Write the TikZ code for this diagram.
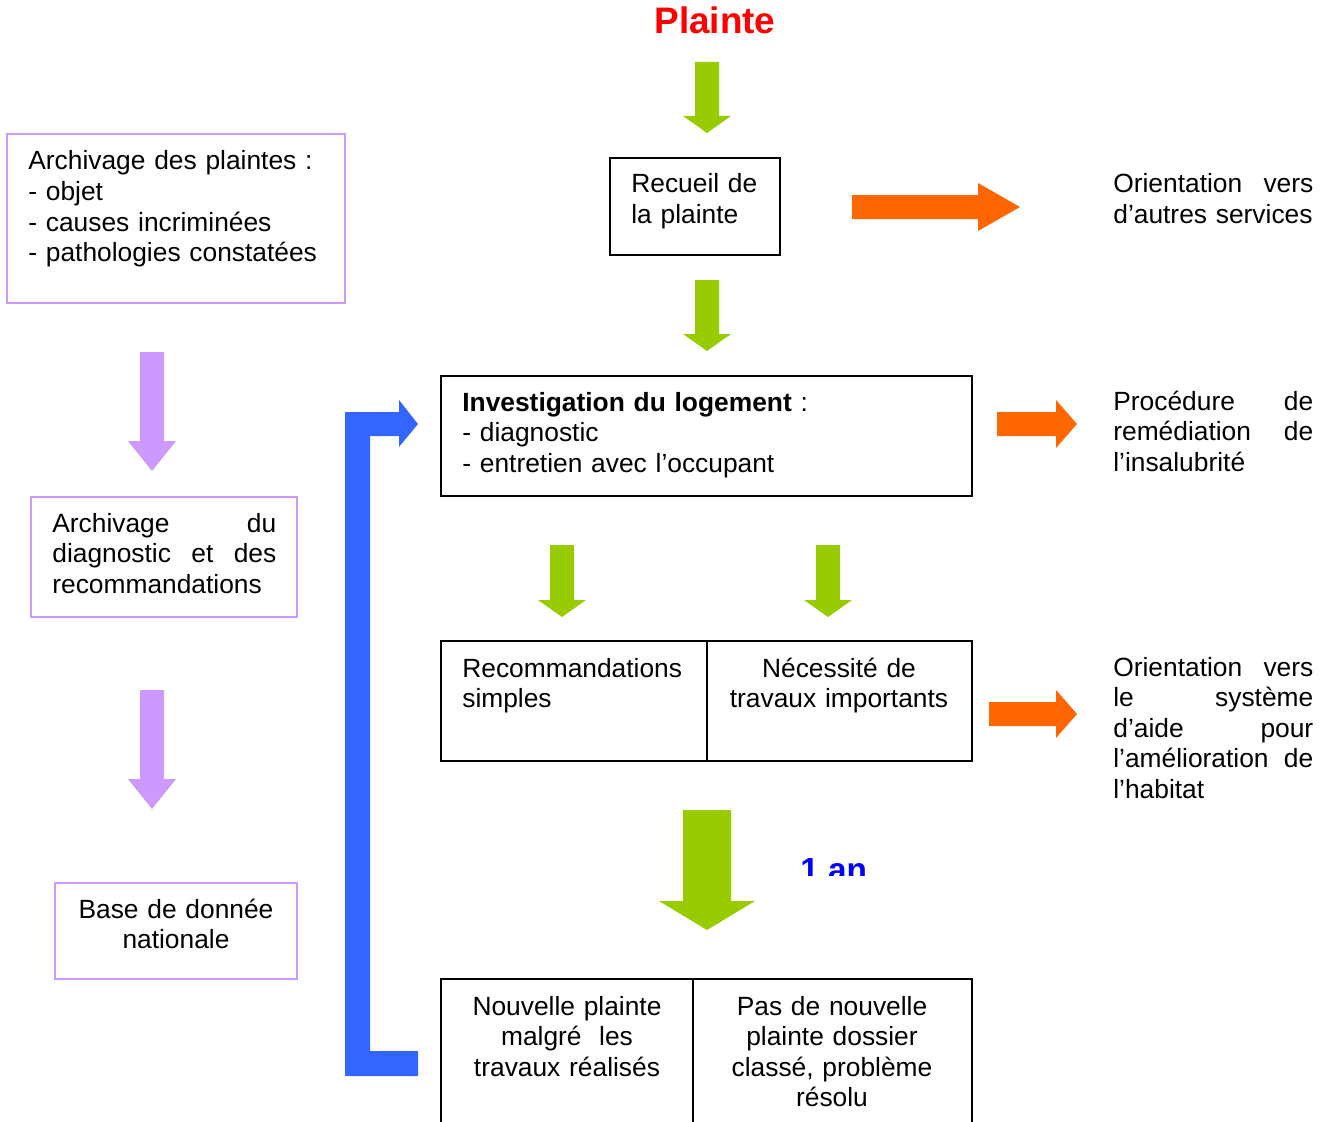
\documentclass[tikz,border=0pt]{standalone}
\usepackage{fontspec}
\setmainfont{Liberation Sans}

\definecolor{leafgreen}{HTML}{99CC00}
\definecolor{flameorange}{HTML}{FF6600}
\definecolor{loopblue}{HTML}{3366FF}
\definecolor{lilac}{HTML}{CC99FF}
\definecolor{titlered}{HTML}{FF0000}
\definecolor{delayblue}{HTML}{0000FF}

% block arrow pointing down: colour, centre x, half shaft, top, head start, tip
\newcommand{\downblock}[6]{%
	\fill[#1] ({#2-#3},#4) -- ({#2+#3},#4) -- ({#2+#3},#5) -- ({#2+2*#3},#5)
		-- (#2,#6) -- ({#2-2*#3},#5) -- ({#2-#3},#5) -- cycle;}
% block arrow pointing right: left x, centre y, half shaft, head start, tip
\newcommand{\rightblock}[5]{%
	\fill[flameorange] (#1,{#2-#3}) -- (#4,{#2-#3}) -- (#4,{#2-2*#3}) -- (#5,#2)
		-- (#4,{#2+2*#3}) -- (#4,{#2+#3}) -- (#1,{#2+#3}) -- cycle;}
% justified line of a given width
\newcommand{\fullline}[2]{\makebox[#1][l]{#2}}

\tikzset{
	body/.style={font=\fontsize{15pt}{17.4pt}\selectfont, inner sep=0pt, align=left, anchor=base west},
	bodymid/.style={body, align=center, anchor=base},
	blackbox/.style={draw=black, line width=1.1pt},
	lilacbox/.style={draw=lilac, line width=0.85pt},
	bigbold/.style={font=\fontsize{19pt}{22pt}\selectfont\bfseries, inner sep=0pt},
}

\begin{document}
\begin{tikzpicture}[x=0.02cm, y=-0.02cm]
	\useasboundingbox (0,0) rectangle (1329,1122);

	% title and main column
	\node[bigbold, font=\fontsize{21pt}{24pt}\selectfont\bfseries, text=titlered, anchor=base] (plainte) at (715,34) {Plainte};
	\downblock{leafgreen}{707}{12}{62}{116}{133}
	\draw[blackbox] (610,158) rectangle (780,255);
	\node[body, text width=3cm] (recueil) at (631,193) {Recueil de\\la plainte};
	\downblock{leafgreen}{707}{12}{280}{334}{351}
	\draw[blackbox] (441,376) rectangle (972,496);
	\node[body, text width=9.5cm] (investigation) at (462,411)
		{\textbf{Investigation du logement} :\\- diagnostic\\- entretien avec l’occupant};
	\downblock{leafgreen}{562}{12}{545}{600}{617}
	\downblock{leafgreen}{828}{12}{545}{600}{617}
	\draw[blackbox] (441,641) rectangle (972,761);
	\draw[blackbox] (707,641) -- (707,761);
	\node[body, text width=4.8cm] (simples) at (462,677) {Recommandations\\simples};
	\node[bodymid, text width=4.8cm] (travaux) at (839,677) {Nécessité de\\travaux importants};
	\downblock{leafgreen}{707}{24}{810}{901}{930}
	\begin{scope}
		\clip (780,840) rectangle (900,875);
		\node[bigbold, text=delayblue, anchor=base west] (delai) at (800,881) {1 an};
	\end{scope}
	\draw[blackbox] (441,1140) -- (441,979) -- (972,979) -- (972,1140);
	\draw[blackbox] (693,979) -- (693,1140);
	\node[bodymid, text width=4.6cm] (nouvelle) at (567,1015) {Nouvelle plainte\\malgré\ \ les\\travaux réalisés};
	\node[bodymid, text width=5.2cm] (resolu) at (832,1015) {Pas de nouvelle\\plainte dossier\\classé, problème\\résolu};

	% loop back
	\fill[loopblue] (345,1076) -- (418,1076) -- (418,1051) -- (370,1051) -- (370,436)
		-- (399,436) -- (399,447) -- (418,424) -- (399,400) -- (399,412) -- (345,412) -- cycle;

	% right column
	\rightblock{852}{207}{12}{978}{1020}
	\node[body, text width=4cm] (services) at (1113,193)
		{\fullline{4cm}{Orientation\hfill vers}\\d’autres services};
	\rightblock{997}{424}{12}{1056}{1077}
	\node[body, text width=4cm] (insalubrite) at (1113,410)
		{\fullline{4cm}{Procédure\hfill de}\\\fullline{4cm}{remédiation\hfill de}\\l’insalubrité};
	\rightblock{989}{714}{12}{1056}{1077}
	\node[body, text width=4cm] (habitat) at (1113,676)
		{\fullline{4cm}{Orientation\hfill vers}\\\fullline{4cm}{le\hfill système}\\\fullline{4cm}{d’aide\hfill pour}\\\fullline{4cm}{l’amélioration\hfill de}\\l’habitat};

	% left column
	\draw[lilacbox] (7,134) rectangle (345,303);
	\node[body, text width=6.4cm] (archives) at (28,170)
		{Archivage des plaintes :\\- objet\\- causes incriminées\\- pathologies constatées};
	\downblock{lilac}{152}{12}{352}{441}{471}
	\draw[lilacbox] (31,497) rectangle (297,617);
	\node[body, text width=4.48cm] (diagnostic) at (52,532)
		{\fullline{4.48cm}{Archivage\hfill du}\\\fullline{4.48cm}{diagnostic\hfill et\hfill des}\\recommandations};
	\downblock{lilac}{152}{12}{690}{779}{809}
	\draw[lilacbox] (55,883) rectangle (297,979);
	\node[bodymid, text width=4.6cm] (base) at (176,918) {Base de donnée\\nationale};
\end{tikzpicture}
\end{document}
